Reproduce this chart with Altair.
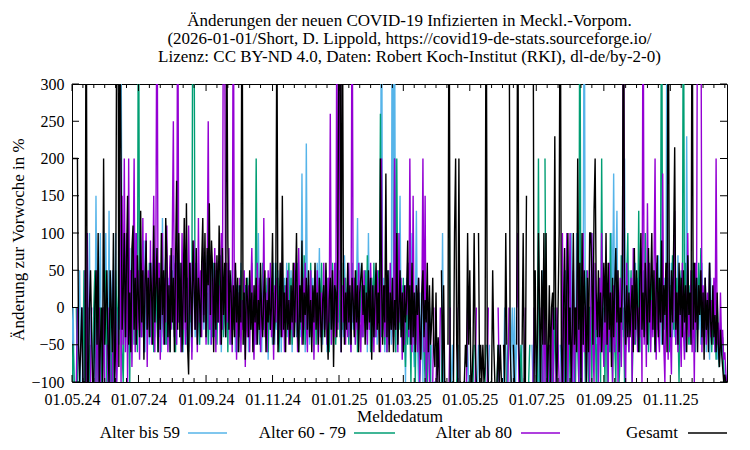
import altair as alt
import pandas as pd

START_DATE = "2024-05-01"
END_DATE = "2025-12-23"

SERIES = ["Alter bis 59", "Alter 60 - 79", "Alter ab 80", "Gesamt"]
COLORS = ["#56b4e9", "#009e73", "#9400d3", "#000000"]

X_TICKS = ["2024-05-01", "2024-07-01", "2024-09-01", "2024-11-01", "2025-01-01",
           "2025-03-01", "2025-05-01", "2025-07-01", "2025-09-01", "2025-11-01"]
Y_TICKS = [-100, -50, 0, 50, 100, 150, 200, 250, 300]

TITLE = ["Änderungen der neuen COVID-19 Infizierten in Meckl.-Vorpom.",
         "(2026-01-01/Short, D. Lippold, https://covid19-de-stats.sourceforge.io/",
         "Lizenz: CC BY-ND 4.0, Daten: Robert Koch-Institut (RKI), dl-de/by-2-0)"]

N = None
# weekly blocks (7 daily values each), starting 2024-05-01
gesamt = [
    [200,200,200,200,200,200,-50],[-100,-50,0,-100,-100,-100,500],[-100,-100,0,50,-33,-100,-100],
    [0,50,-50,100,-100,-50,0],[-100,200,-50,0,50,-50,-100],[50,0,-60,100,-100,-50,400],
    [600,-80,400,200,-30,20,100],[-40,60,150,-50,20,-60,80],[110,-30,40,-50,70,10,-40],
    [130,-20,50,-70,30,90,-30],[40,-40,60,20,-50,110,-20],[30,80,-60,40,-30,100,-10],
    [50,-50,120,70,-40,30,-60],[80,-20,40,-60,60,170,-30],[100,-40,60,-60,20,120,-20],
    [140,-50,-90,60,20,-40,90],[30,-30,80,-50,40,10,-40],[60,120,-20,100,-40,80,30],
    [140,-10,90,50,-60,60,-30],[70,-20,110,40,-50,80,-10],[60,-40,420,90,-30,50,20],
    [-50,30,-40,60,-20,40,-60],[30,-20,500,-50,20,-70,40],[10,-40,50,-30,20,-60,30],
    [-20,40,-50,10,-30,60,-10],[-40,20,50,-60,10,-20,40],[-30,0,100,-50,-20,30,400],
    [-60,-20,60,-40,150,-30,20],[-60,40,-30,10,-50,30,-20],[60,-40,20,100,-30,-60,30],
    [-20,90,-50,20,-10,40,-30],[50,-40,10,-60,30,-20,60],[-30,20,-50,40,-10,-60,10],
    [30,-40,60,-20,-70,10,40],[-30,50,-80,30,20,-40,100],[400,350,-60,500,40,-50,20],
    [-30,60,-20,30,-50,40,10],[-40,50,-20,30,-60,20,40],[60,-10,30,-50,20,-30,50],
    [-20,40,-70,30,-40,10,60],[-30,20,-60,200,40,-50,30],[-20,180,-40,50,-60,20,-30],
    [40,-60,10,-30,100,-50,0],[50,-40,20,-60,30,-20,10],[90,-30,30,-50,60,-40,20],
    [-60,30,-10,40,-30,-70,20],[50,-40,10,-20,60,-60,30],[-50,-20,40,-60,-80,20,-100],
    [-40,-100,N,50,-100,30,-100],[-100,N,-50,500,-100,N,-100],[-100,100,200,-50,-100,200,-100],
    [-100,N,-100,-100,-50,-80,100],[-50,50,-100,-100,-50,100,-50],[-100,N,100,-100,-50,-100,-50],
    [-100,-80,500,-50,-100,N,-100],[-100,50,-50,-100,N,-100,-50],[-100,-50,-100,N,-50,-100,100],
    [-50,N,500,-50,-100,N,-50],[-100,N,-50,500,-50,-100,N],[-50,100,-100,-100,150,N,-50],
    [N,-100,N,500,-100,50,-100],[-50,100,0,-100,50,-50,100],[-50,100,-100,-60,30,-100,0],
    [20,-30,230,-60,-100,0,100],[500,-50,-100,0,80,-100,30],[100,-50,0,-100,-30,100,-50],
    [0,-60,200,-30,60,-100,100],[-50,50,0,-100,40,-60,100],[100,40,-50,130,200,20,-40],
    [50,-40,20,-60,0,60,-20],[100,-50,60,-30,20,-80,40],[-40,30,80,-20,50,-60,0],
    [-20,40,500,10,-50,30,-40],[20,-40,0,30,-60,80,-30],[50,-10,-60,40,100,-30,20],
    [-40,60,10,-50,80,-20,30],[100,-30,50,-60,20,70,-40],[40,-20,90,-50,30,-10,60],
    [-60,500,30,-40,50,-20,80],[215,-30,20,-50,60,-10,40],[-40,50,-20,30,-60,70,-10],
    [20,-50,500,-30,60,-20,40],[-60,30,-10,50,-40,20,-70],[40,-30,10,-60,60,-20,-50],
    [30,-40,-10,-60,20,-50,-80],[-30,-60,-80,-100,-90,-100,-100],
]

bis59 = [
    [-50,0,-100,N,N,-100,0],[50,-100,N,N,-100,0,-100],[N,-100,100,-100,N,-100,0],
    [-100,150,-50,-100,0,100,-100],[-50,0,-100,100,-60,-100,130],[-100,0,50,-100,-50,100,-100],
    [0,-50,500,400,-30,60,100],[-20,40,-60,30,80,-40,20],[60,-30,100,-50,40,-20,70],
    [-40,50,-10,90,-60,30,-20],[40,-50,20,60,-30,10,-40],[80,-20,50,-40,30,-60,120],
    [-30,20,-50,60,-10,40,-60],[30,-20,70,-40,20,-50,50],[-10,60,-30,20,-60,40,10],
    [-50,30,-20,50,-30,-60,20],[40,-40,10,-20,60,-50,30],[-10,50,-30,20,-40,70,-20],
    [30,-50,60,-20,10,-40,50],[-30,20,-10,40,-60,30,-20],[50,-40,20,-30,60,-10,-50],
    [20,-30,40,-60,10,-20,30],[-40,60,-20,10,-50,30,-10],[40,-60,20,-30,50,-20,10],
    [-50,30,-10,100,-30,20,-60],[40,-20,10,-40,30,-70,20],[-30,40,-20,60,-50,10,-30],
    [50,-40,20,-60,30,-10,40],[-20,60,-40,10,-30,50,-60],[20,-30,40,-10,60,-50,10],
    [-40,180,-20,30,-60,220,-30],[30,-50,50,-20,40,-60,20],[-30,60,-10,80,-40,20,-50],
    [30,-20,50,-60,10,-30,40],[-50,20,-10,30,-40,60,-20],[40,-30,-60,20,-40,70,-10],
    [-20,50,-40,10,-60,30,-30],[40,-50,20,120,-30,60,-20],[10,-40,30,-20,50,-60,100],
    [-30,40,-60,10,50,-40,20],[-50,30,-20,60,500,-10,40],[-60,20,-30,50,-40,30,-50],
    [600,-20,400,-60,80,-30,20],[150,-40,30,-60,10,-100,40],[-30,60,-50,20,100,-40,-80],
    [-20,130,-50,-100,20,-60,0],[-100,50,-40,30,-100,-20,0],[-100,-50,N,-100,-100,N,-100],
    [N,-100,N,-100,100,-100,N],[-100,N,-100,N,N,-100,-50],[-100,N,-100,N,-50,-100,N],
    [N,-100,N,-100,N,-100,-50],[-100,N,N,-100,-100,N,-100],[N,-100,-50,N,-100,N,-100],
    [-100,N,-100,N,-100,-50,N],[-100,N,-100,N,-100,N,-100],[-50,N,-100,N,-100,0,-50],
    [-100,N,N,-100,-50,0,-100],[0,-100,-50,N,-100,N,-100],[-50,N,-100,-100,N,N,-100],
    [-100,N,-50,-100,N,0,-100],[-50,-100,N,N,-100,50,-100],[N,-50,-100,N,-100,-50,N],
    [-100,0,-50,-100,N,-100,N],[-50,-100,N,-100,50,-100,N],[-100,0,-50,100,-60,-100,0],
    [-50,100,0,-100,-60,20,-100],[0,500,-50,-30,20,-60,0],[-40,100,0,-50,50,-30,-100],
    [20,-50,40,0,-60,30,-20],[-50,30,-10,40,-60,100,-20],[180,-40,30,130,-50,20,-30],
    [-20,60,-40,200,-60,30,-10],[50,-30,20,-60,40,-10,60],[-30,40,-50,20,80,-20,30],
    [-40,60,-10,30,-50,20,-30],[50,-20,40,-60,10,-30,70],[-20,30,-50,60,-30,40,-10],
    [500,-30,50,-20,60,-40,20],[-40,30,-10,70,-50,20,-30],[40,-20,50,-60,230,-30,20],
    [-50,30,-20,60,-40,10,-30],[40,-30,20,-50,60,-10,-40],[30,-60,10,-20,-70,40,-50],
    [-30,20,-60,-10,-70,-40,-80],[-20,-60,-50,-80,-100,-90,-100],
]

a60_79 = [
    [-100,-50,-100,N,0,-100,-100],[-100,N,0,-100,50,-100,N],[-100,0,-100,-50,N,-100,0],
    [50,-100,0,-100,-80,0,-100],[-100,0,-50,50,-100,N,-100],[0,-100,-60,0,-100,50,0],
    [-50,100,-30,50,-60,-100,0],[20,-40,60,-20,-100,50,-30],[80,-50,20,40,-60,500,-20],
    [30,-40,50,-60,20,80,-30],[-20,60,-40,10,40,-60,30],[50,-20,-60,30,-30,60,-10],
    [-40,20,70,-50,30,-20,40],[-10,50,-30,20,-60,40,-20],[60,-40,30,-10,-50,20,50],
    [-30,40,-60,20,-20,30,500],[400,-30,60,-40,20,-50,30],[-20,40,-10,60,-30,20,-50],
    [50,-30,10,-40,60,-20,30],[-50,40,-20,70,-10,30,-40],[20,-30,50,-60,40,-10,-30],
    [50,-20,10,-40,30,-60,20],[-30,50,-20,10,-50,30,-10],[40,-40,20,-30,60,-20,10],
    [-20,200,-40,30,-50,20,-30],[60,-30,10,-20,40,-60,30],[-10,30,-50,20,-30,60,-20],
    [40,-60,10,-30,50,-20,30],[-40,20,-10,60,-30,40,-50],[20,-20,50,-40,10,-60,30],
    [-30,40,-20,70,-50,20,-10],[30,-40,60,-20,10,-30,50],[-50,20,-30,40,-10,60,-40],
    [10,-20,50,-30,40,-60,20],[-30,60,-10,20,-50,30,-20],[50,-40,10,-30,60,-20,40],
    [-10,30,-50,20,-40,60,-20],[30,-30,50,-60,10,-20,40],[-40,20,-20,50,-30,70,-10],
    [20,-60,40,-20,60,-40,10],[-30,50,-20,260,-40,20,-10],[-50,30,-60,40,-20,50,-30],
    [20,-40,200,-60,200,-20,50],[-30,10,-60,40,-20,-80,20],[-50,30,-10,-100,50,-40,0],
    [-100,20,-50,0,-100,-60,0],[50,-50,-100,0,-100,-50,0],[-100,N,-50,N,-100,N,-100],
    [-100,N,N,-100,-50,N,-100],[N,-100,N,200,-100,N,-100],[-100,N,N,-100,-50,N,-100],
    [N,-100,N,-100,N,N,-100],[-100,N,-100,N,-100,-50,N],[-100,N,N,-100,N,-100,N],
    [N,-100,-50,N,-100,N,-100],[-100,N,-100,N,N,-100,-50],[N,-100,N,-100,N,-100,N],
    [-100,-50,N,N,-100,N,-100],[N,-100,N,-100,N,-100,-50],[-100,N,-100,N,-100,N,-100],
    [-50,N,-100,N,-100,N,N],[-100,200,-100,N,-50,-100,N],[200,-100,N,-50,-100,N,-100],
    [-100,0,-50,-100,N,N,-100],[N,-100,-50,0,-100,50,-100],[-50,0,-100,N,-100,0,-50],
    [-100,0,-50,-100,500,-100,0],[-50,0,-100,50,-50,-100,0],[0,-100,50,-60,0,-100,-50],
    [-50,0,-100,200,-30,0,-100],[50,-100,0,-60,100,-30,-100],[0,-50,-100,50,0,-100,-60],
    [70,-30,0,-100,-50,40,100],[-60,0,50,-100,-30,60,-50],[20,-40,130,-60,30,-20,50],
    [-30,100,-10,40,-60,20,-40],[50,-30,20,-50,60,-20,40],[-10,30,500,-40,20,-30,50],
    [-20,40,-60,30,-10,70,-30],[20,-50,40,-20,-100,30,50],[-40,500,-20,60,-30,20,-50],
    [30,-20,50,-40,20,-60,40],[-30,60,-10,80,-50,20,-20],[40,-40,10,-30,60,-20,-60],
    [20,-50,-20,-70,10,-40,-80],[-30,-60,-40,-90,-100,-100,-100],
]

ab80 = [
    [N,-100,N,N,-100,0,N],[-100,N,0,-100,N,50,-100],[100,-100,N,-100,0,N,-100],
    [N,-100,50,-100,0,-100,N],[-100,0,-100,N,-50,-100,0],[-100,N,-100,50,-100,0,-100],
    [-50,0,200,-100,150,-50,200],[-60,100,-100,200,-40,50,-80],[30,200,-60,100,-30,50,-70],
    [60,-40,120,-60,40,100,-80],[50,-30,90,-50,20,150,-60],[80,500,-40,60,-70,30,100],
    [-50,40,-20,110,-60,20,70],[-30,90,250,-40,60,-50,500],[-20,40,-60,100,-30,70,-50],
    [20,-40,110,-10,60,-70,30],[90,-30,40,-60,120,-20,50],[-40,80,-10,60,-50,30,250],
    [-30,70,-50,40,-10,80,-60],[60,-20,30,-50,100,-30,500],[450,-40,60,-20,80,-50,30],
    [-60,500,-30,50,-70,20,-40],[40,-60,10,-30,50,-80,20],[-40,30,-60,20,80,-20,-70],
    [30,-50,60,-20,40,-60,10],[-30,120,-40,20,-60,50,-10],[60,-40,20,-70,30,-20,40],
    [-50,10,-30,60,-40,20,-60],[30,-20,50,-50,10,-30,20],[-40,60,-20,30,-60,80,-10],
    [20,-50,40,-30,60,-20,-60],[30,-10,50,-40,20,-70,40],[-20,50,-60,30,-40,20,-30],
    [60,-30,20,-50,40,-20,260],[-50,30,-20,60,-40,400,-30],[50,500,-60,30,-20,40,-50],
    [20,-40,60,-30,-60,500,-20],[40,-50,20,-30,60,-20,-60],[30,-40,50,-20,10,-50,40],
    [-30,60,-10,20,-60,30,-40],[50,-20,40,-60,200,-30,20],[-40,30,-60,20,-50,60,-30],
    [20,-50,200,-30,40,-60,100],[-20,40,-70,20,-50,30,-10],[60,-40,200,-20,-60,150,-50],
    [-30,20,-60,40,-100,-50,0],[200,-60,150,-100,-50,0,-100],[-100,N,-100,0,N,-100,-50],
    [N,-100,0,N,-100,N,-100],[-100,N,N,-100,0,N,-100],[N,-100,N,0,-100,N,N],
    [-100,N,-100,N,N,-100,0],[N,-100,N,-100,N,N,-100],[0,N,-100,N,-100,N,N],
    [-100,N,N,-100,0,N,-100],[N,-100,N,N,-100,N,0],[-100,N,-100,N,N,-100,N],
    [N,-100,0,N,-100,N,-100],[-100,N,0,100,-100,N,N],[-100,N,-100,0,N,-100,N],
    [N,-100,N,-100,0,N,-100],[-100,N,0,-100,N,-100,50],[-100,0,N,-100,-50,N,-100],
    [0,-100,N,-100,0,-50,-100],[N,-100,100,-100,0,-50,100],[-100,0,100,-60,-100,50,-100],
    [0,-50,100,-100,-30,0,-100],[100,-60,0,-100,50,-30,-100],[0,100,-50,-100,60,-30,0],
    [-100,40,-60,100,-30,-80,20],[-50,0,-100,60,-40,20,-100],[30,-60,0,50,-100,-20,40],
    [-80,20,500,-50,-100,60,-30],[-60,0,40,-100,80,-50,-20],[20,-60,0,-40,60,-100,500],
    [-50,30,-80,140,-20,60,-60],[10,-40,50,200,-70,20,-30],[-60,30,-20,180,-50,-100,40],
    [10,-70,60,-30,-90,40,-20],[130,-50,20,-60,40,-20,-80],[60,-30,-70,20,-50,100,-40],
    [-20,50,-60,30,-100,60,-30],[500,600,400,500,-60,30,-20],[40,-50,20,-30,60,-40,10],
    [-30,40,-60,200,-50,-20,-70],[20,-50,-30,-70,-60,-90,-100],
]


def flat(weeks):
    return [v for w in weeks for v in w]


values = [flat(bis59), flat(a60_79), flat(ab80), flat(gesamt)]
n_days = len(values[3])
dates = pd.date_range(START_DATE, periods=n_days, freq="D").strftime("%Y-%m-%d")

rows = []
for name, vals in zip(SERIES, values):
    for d, v in zip(dates, vals):
        rows.append({"datum": d, "wert": v, "serie": name})
df = pd.DataFrame(rows)

FONT = "Liberation Serif"
W, H = 655, 298
TXT = 17

x_scale = alt.Scale(type="utc", domain=[START_DATE, END_DATE])
y_scale = alt.Scale(domain=[-100, 300], nice=False, zero=False)

x_axis = alt.Axis(values=[alt.DateTime(year=int(t[:4]), month=int(t[5:7]), date=1, utc=True) for t in X_TICKS],
                  format="%d.%m.%y", ticks=False, domain=False, grid=False, labelPadding=9,
                  title="Meldedatum", titleY=34, titleBaseline="middle", labelFlush=False,
                  labelFont=FONT, labelFontSize=16, labelColor="black",
                  titleFont=FONT, titleFontSize=TXT, titleFontWeight="normal", titleColor="black")
y_axis = alt.Axis(values=Y_TICKS, ticks=False, domain=False, grid=False, labelPadding=8,
                  title="Änderung zur Vorwoche in %", titleX=-54, titleY=H / 2 + 6,
                  titleBaseline="middle",
                  labelFont=FONT, labelFontSize=16, labelColor="black",
                  titleFont=FONT, titleFontSize=TXT, titleFontWeight="normal", titleColor="black")

layers = []
for name, col in zip(SERIES, COLORS):
    layers.append(
        alt.Chart(df).transform_filter(alt.datum.serie == name)
        .mark_line(color=col, strokeWidth=1.4, clip=True, invalid="break-paths-filter-domains")
        .encode(x=alt.X("datum:T", scale=x_scale, axis=x_axis),
                y=alt.Y("wert:Q", scale=y_scale, axis=y_axis))
    )

# inward ticks (gnuplot style)
major = pd.to_datetime(X_TICKS)
bounds = list(major) + [pd.Timestamp("2026-01-01")]
minor = []
for a, b in zip(bounds[:-1], bounds[1:]):
    for k in range(1, 6):
        t = a + (b - a) * k / 6
        if t <= pd.Timestamp(END_DATE):
            minor.append(t.strftime("%Y-%m-%d"))
xt = pd.DataFrame({"datum": X_TICKS})
xm = pd.DataFrame({"datum": minor})
yt = pd.DataFrame({"wert": Y_TICKS})

tx = alt.X("datum:T", scale=x_scale, axis=x_axis)
ty = alt.Y("wert:Q", scale=y_scale, axis=y_axis)
tick_style = dict(color="black", strokeWidth=1)
layers += [
    alt.Chart(yt).mark_rule(**tick_style).encode(y=ty, x=alt.value(0), x2=alt.value(7)),
    alt.Chart(yt).mark_rule(**tick_style).encode(y=ty, x=alt.value(W - 7), x2=alt.value(W)),
    alt.Chart(xt).mark_rule(**tick_style).encode(x=tx, y=alt.value(H), y2=alt.value(H - 7)),
    alt.Chart(xt).mark_rule(**tick_style).encode(x=tx, y=alt.value(0), y2=alt.value(7)),
    alt.Chart(xm).mark_rule(**tick_style).encode(x=tx, y=alt.value(H), y2=alt.value(H - 4)),
    alt.Chart(xm).mark_rule(**tick_style).encode(x=tx, y=alt.value(0), y2=alt.value(4)),
]

# legend (text then line sample, gnuplot style)
legend_text_right = [108, 274, 440, 606]
legend_line = [(116, 155), (282, 323), (449, 488), (616, 655)]
LEG_BASE = 354
dummy = pd.DataFrame({"k": [0]})
for name, col, tr, (l0, l1) in zip(SERIES, COLORS, legend_text_right, legend_line):
    layers.append(alt.Chart(dummy).mark_text(text=name, align="right", baseline="alphabetic",
                                             font=FONT, fontSize=TXT, color="black")
                  .encode(x=alt.value(tr), y=alt.value(LEG_BASE)))
    layers.append(alt.Chart(dummy).mark_rule(color=col, strokeWidth=1.5)
                  .encode(x=alt.value(l0), x2=alt.value(l1), y=alt.value(LEG_BASE - 5)))

chart = alt.layer(*layers).properties(
    width=W, height=H,
    background="white",
    autosize=alt.AutoSizeParams(type="none"),
    padding={"left": 64, "top": 76, "right": 15, "bottom": 60},
    title=alt.TitleParams(text=TITLE, font=FONT, fontSize=TXT, fontWeight="normal",
                          anchor="middle", dx=10, offset=10, lineHeight=18, color="black"),
).configure_view(stroke="black", strokeWidth=1).configure_axis(
    labelFont=FONT, labelFontSize=16, labelColor="black",
    titleFont=FONT, titleFontSize=TXT, titleFontWeight="normal", titleColor="black",
)

chart.save("out.html", embed_options={"renderer": "svg", "actions": False})
